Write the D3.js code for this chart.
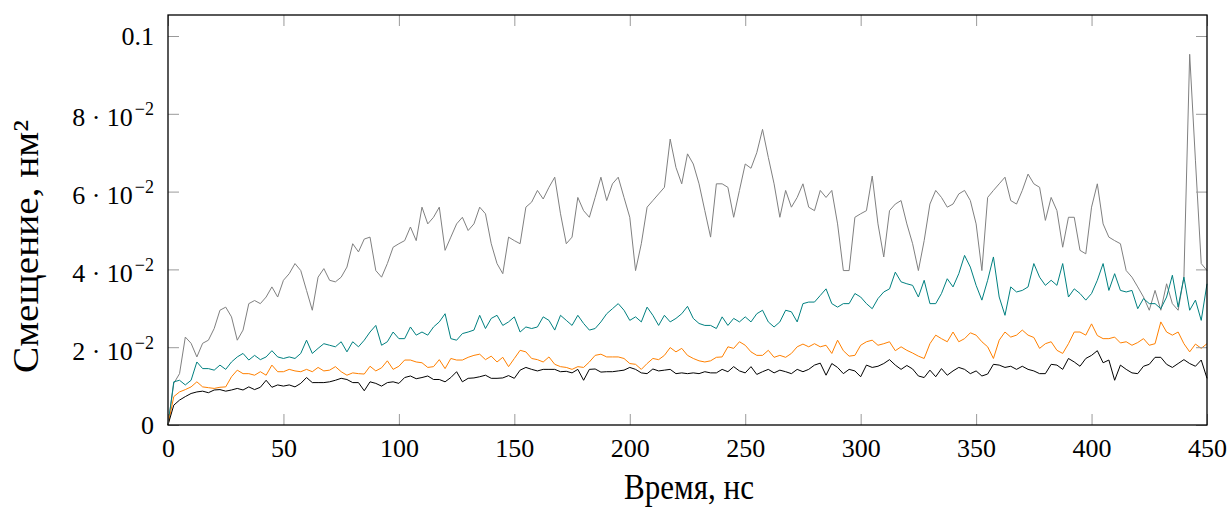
<!DOCTYPE html>
<html>
<head>
<meta charset="utf-8">
<script src="https://cdn.jsdelivr.net/npm/d3@7"></script>
<style>
  body { margin: 0; background: #fff; }
  svg { display: block; font-family: "Liberation Serif", "DejaVu Serif", serif; }
  svg text { font-family: "Liberation Serif", "DejaVu Serif", serif; }
</style>
</head>
<body>
<svg id="chart" width="1227" height="507"></svg>
<script>
/* time grid: one sample every 2.5 ns, 0..450 ns */
const tStep = 2.5;
const msdUnit = 1e-3;   // values below are in 10^-3 nm^2

const grayMsd = [
    0, 10.7, 13.2, 22.6, 21, 17.5, 21, 21.8, 24.8, 29.5,
    30.3, 27.8, 21.8, 24.4, 31.2, 32, 31.2, 32.9, 35.5, 32.9,
    37.2, 38.9, 41.5, 39.7, 34.6, 29.5, 38, 40.2, 37.2, 36.8,
    38, 40.6, 46.6, 44.5, 47.8, 48.3, 39.7, 38, 41.5, 45.7,
    46.6, 47.4, 50.9, 47.4, 56, 51.7, 53.4, 56, 44.9, 48.3,
    51.7, 53.4, 50, 51.7, 56, 54.3, 46.6, 41.5, 38.9, 48.3,
    47.4, 46.6, 56, 57.3, 60.3, 58.1, 61.1, 63.7, 54.3, 46.6,
    48.3, 58.5, 55.1, 53.4, 58.5, 63.7, 57.7, 62, 63.7, 58.5,
    53.4, 39.7, 46.6, 56, 57.7, 59.4, 61.1, 73.5, 66.2, 62,
    69.7, 67.1, 62, 55.1, 48.3, 62, 62, 61.1, 53.4, 60.3,
    67.1, 66, 70, 76, 68.8, 62, 53.4, 60.3, 56, 58.5,
    62, 56, 55.1, 60.3, 58.5, 60.3, 51.7, 39.7, 39.7, 53.4,
    54.3, 55.1, 64, 51.7, 43.2, 55.1, 56.8, 57.7, 51.7, 46.6,
    39.7, 47.4, 56.8, 60.3, 58.5, 56, 56.8, 59.4, 60.3, 57.7,
    51.7, 39.7, 58.5, 60.3, 62, 63.7, 57.7, 56.8, 60.3, 64.5,
    62, 61.1, 52.6, 58.5, 55.1, 45.7, 53.4, 53.4, 44.9, 44,
    56, 62, 51.7, 48.3, 47.4, 46.6, 39.7, 38, 35.5, 32.9,
    29.5, 34.6, 29.5, 36.3, 31.2, 29.5, 38, 95.3, 67.9, 41.5,
    39.7
];

const tealMsd = [
    0, 11.1, 11.5, 10.3, 11.5, 16.2, 14.5, 14.5, 14.1, 15.4,
    14.3, 16.2, 17.5, 18.4, 16.7, 17.9, 16.8, 17.5, 19.1, 17.5,
    17.1, 17.5, 17.1, 18.4, 21.8, 18.4, 19.7, 20.9, 20.5, 20.1,
    21.4, 18.8, 21.4, 20.1, 21.8, 23.9, 25.6, 20.5, 21.4, 23.9,
    22.2, 22.2, 25.2, 23.1, 23.9, 23.1, 25.2, 26.5, 28.6, 22.2,
    21.8, 23.5, 23.9, 24.4, 28.2, 24.8, 27.4, 28.2, 25.6, 26.5,
    27.8, 23.9, 25.2, 24.8, 25.2, 27.8, 26.9, 24.4, 28.2, 26.9,
    25.6, 28.2, 26.1, 24.4, 24.8, 26.5, 28.6, 29.9, 31.2, 29.5,
    26.9, 27.8, 26.5, 30.3, 28.2, 25.6, 28.2, 26.5, 27.4, 28.6,
    30.5, 27.4, 26.1, 25.6, 25.6, 24.8, 27.8, 25.6, 27.4, 26.5,
    27.8, 26.5, 28.6, 29.5, 26.5, 25.2, 26.5, 29.5, 29.1, 26.5,
    31.2, 31.6, 31.6, 33.3, 35, 31.2, 30.3, 31.2, 31.2, 33.8,
    32.9, 31.2, 29.9, 32.5, 34.2, 35, 39.3, 36.8, 36.3, 35.9,
    32.9, 37.2, 31.2, 31.2, 33.8, 37.6, 35.5, 38.9, 43.6, 40.6,
    35.9, 32.1, 37.2, 43.2, 32.9, 28.2, 35.5, 34.2, 34.6, 35.5,
    41.5, 38, 35.9, 37.2, 35.9, 41.5, 32.9, 35, 33.8, 32.1,
    33.8, 37.2, 41.5, 34.6, 38.9, 34.6, 34.2, 34.6, 29.9, 32.5,
    31.2, 31.2, 29.9, 32.9, 38.5, 30.3, 38, 29.5, 32.1, 26.9,
    36.3
];

const orangeMsd = [
    0, 7.3, 8.5, 9.1, 9.8, 11.1, 9.8, 9.6, 9.4, 9.7,
    9.8, 12.4, 14.1, 13.2, 13.2, 12.8, 13.7, 12.8, 15.4, 13.7,
    13.7, 14.3, 13.9, 13.7, 14.3, 13.7, 14.8, 13.9, 14.1, 15,
    13.7, 12.8, 13.4, 13.2, 13.1, 15.1, 13.9, 14.7, 16.5, 14.3,
    15.1, 16.7, 16.7, 16.2, 16, 14.8, 15, 16.8, 14.5, 17.1,
    16.7, 16.7, 17.4, 17.9, 18.2, 16.8, 17.7, 16.2, 17.4, 15,
    17.1, 19.2, 18.8, 17.1, 16.8, 16.2, 17.5, 15.6, 15, 14.8,
    14.3, 15, 14.8, 16.2, 17.9, 18.2, 17.5, 17.5, 17.5, 17.1,
    15.8, 15.6, 14.3, 15.8, 17.1, 16.8, 17.9, 19.9, 18.8, 19.7,
    17.9, 17.1, 16.5, 16.2, 16.5, 17.4, 17.5, 20.1, 19.7, 21.4,
    20.5, 18.8, 17.9, 17.9, 19.2, 17.4, 17.9, 17.4, 18.4, 20.1,
    20.8, 20.1, 20.9, 20.1, 20.5, 18.4, 21.8, 19.1, 17.7, 17.9,
    20.5, 21.4, 21.8, 20.5, 20.9, 21.4, 19.1, 20.1, 19.2, 18.5,
    17.7, 17.1, 20.9, 23.1, 22.2, 21.4, 23.9, 21.4, 22.2, 23.7,
    23.1, 21.4, 20.1, 17.1, 21.8, 23.9, 22.6, 23.1, 24.4, 23.1,
    22.5, 19.7, 20.9, 21.4, 19.2, 18.4, 20.9, 23.9, 23.9, 23.1,
    26, 23, 22.2, 22.2, 22.6, 21.1, 21.4, 20.5, 21.2, 22.2,
    20.5, 20.9, 26.5, 23.9, 23.1, 23.9, 20.9, 18.8, 20.8, 19.7,
    20.9
];

const blackMsd = [
    0, 5.1, 6.4, 7.3, 8.1, 8.5, 8.7, 8.3, 9, 9.1,
    8.7, 9, 9.4, 9, 9.8, 9.1, 9.7, 11.5, 9.7, 10.3,
    10, 10.3, 9.8, 10.7, 12.2, 10.9, 10.9, 10.9, 11.1, 11.5,
    12, 11.7, 10.9, 10.9, 8.8, 11.1, 10.7, 10, 10.9, 11.1,
    10.7, 12.2, 12.6, 11.9, 12.2, 12.6, 11.7, 11.7, 11.1, 12.2,
    13.7, 11.1, 12, 12.1, 12.4, 12.8, 12, 12, 12.1, 12.7,
    12, 14.1, 14.8, 14.3, 13.9, 14.3, 14.3, 14.3, 13.7, 13.8,
    13.4, 14.3, 11.5, 14.3, 14.4, 13.6, 13.7, 13.7, 13.9, 14.1,
    14.8, 14.3, 13.4, 13.2, 14.4, 13.9, 14.1, 14.3, 13.2, 13.4,
    13.2, 13.4, 13.2, 13.7, 13.4, 13.4, 14.3, 13.7, 15, 13.9,
    13.4, 15, 13, 13.7, 14.3, 13.4, 14.1, 13.7, 13.2, 14.3,
    13.7, 14.3, 15.4, 15.9, 12.8, 15.8, 14.8, 13.2, 14.3, 13.9,
    12.4, 15.4, 14.8, 15.1, 15.8, 16.8, 15.4, 14.3, 15.3, 14.4,
    12.6, 12.2, 14.1, 12.4, 14.5, 12.8, 13.9, 14.8, 14.3, 13.2,
    13.9, 12.6, 13.1, 15.6, 15.4, 14.8, 15.1, 14.3, 15.1, 14.3,
    13.9, 13.2, 13.2, 15.6, 15.4, 14.3, 17.1, 16.2, 15.1, 17.1,
    17.9, 19.1, 16, 16.7, 11.5, 15.4, 14.3, 13.4, 13.2, 15.1,
    15.6, 17.4, 17.4, 15.6, 14.8, 15.8, 16.8, 15.8, 15.1, 16.7,
    12
];

const seriesNames = ["gray", "teal", "orange", "black"];
const seriesColors = ["#808080", "#008080", "#ff8000", "#000000"];

const xTicks = [0, 50, 100, 150, 200, 250, 300, 350, 400, 450];
const yTicks = [0, 0.02, 0.04, 0.06, 0.08, 0.1];
const yTickMain = ["0", "2 · 10", "4 · 10", "6 · 10", "8 · 10", "0.1"];
const yTickExp = ["", "−2", "−2", "−2", "−2", ""];

const xTitle = "Время, нс";
const yTitle = "Смещение, нм²";

let ctx = {
    left: 168, right: 1207, top: 15, bottom: 425,
    tick: 11,
    font: "Liberation Serif"
};

function createChart() {
    let svg = d3.select("#chart");

    let xScale = d3.scaleLinear()
        .domain([0, 450])
        .range([ctx.left, ctx.right]);

    let yScale = d3.scaleLinear()
        .domain([0, 0.1054])
        .range([ctx.bottom, ctx.top]);

    /* lines */
    let allSeries = [grayMsd, tealMsd, orangeMsd, blackMsd];
    let line = d3.line()
        .x((d, i) => xScale(i * tStep))
        .y(d => yScale(d * msdUnit));

    svg.append("g").attr("id", "lines")
        .selectAll("path")
        .data(allSeries)
        .join("path")
        .attr("class", (d, i) => seriesNames[i])
        .attr("d", line)
        .attr("fill", "none")
        .attr("stroke", (d, i) => seriesColors[i])
        .attr("stroke-width", 1)
        .attr("stroke-linejoin", "round");

    /* axes: inward ticks on all four sides */
    let bottomAxis = svg.append("g")
        .attr("transform", "translate(0," + ctx.bottom + ")")
        .call(d3.axisBottom(xScale).tickValues(xTicks).tickSizeInner(-ctx.tick).tickSizeOuter(0));
    bottomAxis.selectAll("text")
        .attr("y", 32).attr("dy", null)
        .attr("font-family", ctx.font)
        .style("font-size", "26px")
        .style("fill", "#000");

    svg.append("g")
        .attr("transform", "translate(0," + ctx.top + ")")
        .call(d3.axisTop(xScale).tickValues(xTicks).tickSizeInner(-ctx.tick).tickSizeOuter(0).tickFormat(""));

    let leftAxis = svg.append("g")
        .attr("transform", "translate(" + ctx.left + ",0)")
        .call(d3.axisLeft(yScale).tickValues(yTicks).tickSizeInner(-ctx.tick).tickSizeOuter(0).tickFormat(""));

    svg.append("g")
        .attr("transform", "translate(" + ctx.right + ",0)")
        .call(d3.axisRight(yScale).tickValues(yTicks).tickSizeInner(-ctx.tick).tickSizeOuter(0).tickFormat(""));

    svg.selectAll(".domain").remove();
    svg.selectAll(".tick line").attr("stroke", "#9a9a9a").attr("stroke-width", 1);
    svg.selectAll("g").attr("font-family", null);

    /* y tick labels with exponent */
    leftAxis.selectAll(".tick").each(function (d, i) {
        let lbl = d3.select(this).append("text")
            .attr("x", -14)
            .attr("y", yTickExp[i] ? 12 : 8)
            .attr("text-anchor", "end")
            .attr("font-family", ctx.font)
            .style("font-size", "26px")
            .style("fill", "#000");
        lbl.append("tspan").text(yTickMain[i]);
        if (yTickExp[i]) {
            lbl.append("tspan")
                .attr("dx", 2)
                .attr("dy", -11)
                .style("font-size", "18px")
                .text(yTickExp[i]);
        }
    });

    /* frame */
    svg.append("rect")
        .attr("x", ctx.left)
        .attr("y", ctx.top)
        .attr("width", ctx.right - ctx.left)
        .attr("height", ctx.bottom - ctx.top)
        .attr("fill", "none")
        .attr("stroke", "#000")
        .attr("stroke-width", 1.3);

    /* axis titles */
    svg.append("text")
        .attr("x", 624)
        .attr("y", 499)
        .attr("textLength", 130)
        .attr("lengthAdjust", "spacingAndGlyphs")
        .attr("font-family", ctx.font)
        .style("font-size", "35px")
        .text(xTitle);

    svg.append("text")
        .attr("transform", "translate(38,373) rotate(-90)")
        .attr("textLength", 253)
        .attr("lengthAdjust", "spacingAndGlyphs")
        .attr("font-family", ctx.font)
        .style("font-size", "36px")
        .text(yTitle);
}

createChart();
</script>
</body>
</html>
